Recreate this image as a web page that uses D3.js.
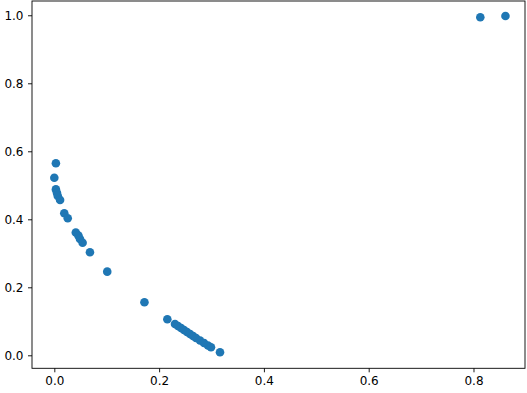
<!DOCTYPE html>
<html>
<head>
<meta charset="utf-8">
<script src="https://cdn.jsdelivr.net/npm/d3@7"></script>
<style>
  html, body { margin: 0; padding: 0; background: #fff; }
  svg text { font-family: "DejaVu Sans", sans-serif; }
</style>
</head>
<body>
<svg id="chart" width="527" height="393"></svg>
<script>
// scatter values
const xs = [0.003, 0.000, 0.003, 0.005, 0.0065, 0.011, 0.019, 0.0256, 0.041, 0.046, 0.049, 0.054, 0.068, 0.101,
  0.172, 0.2157, 0.2303, 0.236, 0.2418, 0.2475, 0.2532, 0.259, 0.2647, 0.2704, 0.2781, 0.2857, 0.2933, 0.299, 0.3162,
  0.813, 0.861]
const ys = [0.565, 0.522, 0.488, 0.478, 0.469, 0.457, 0.418, 0.403, 0.361, 0.352, 0.342, 0.331, 0.303, 0.246,
  0.156, 0.106, 0.092, 0.0862, 0.0803, 0.0744, 0.0685, 0.0626, 0.0568, 0.0509, 0.0435, 0.0362, 0.0288, 0.0235, 0.0088,
  0.994, 0.998]
const xTicks = [0.0, 0.2, 0.4, 0.6, 0.8]
const yTicks = [0.0, 0.2, 0.4, 0.6, 0.8, 1.0]

const data = xs.map((x, i) => ({ x, y: ys[i] }))
const m = { left: 32, right: 525, top: 1, bottom: 368.3 }
const svg = d3.select('#chart')

const x = d3.scaleLinear().domain([-0.0426, 0.8983]).range([m.left, m.right])
const y = d3.scaleLinear().domain([-0.0382, 1.042]).range([m.bottom, m.top])

svg.append('g').selectAll('circle').data(data).enter().append('circle')
  .attr('cx', d => x(d.x)).attr('cy', d => y(d.y)).attr('r', 4.3)
  .attr('fill', '#1f77b4')

// frame
svg.append('rect').attr('x', m.left).attr('y', m.top)
  .attr('width', m.right - m.left).attr('height', m.bottom - m.top)
  .attr('fill', 'none').attr('stroke', '#000').attr('stroke-width', 0.9)

const fmt = d3.format('.1f')
const xa = svg.append('g').attr('transform', `translate(0,${m.bottom})`)
  .call(d3.axisBottom(x).tickValues(xTicks).tickFormat(fmt).tickSize(4).tickPadding(4.5))
const ya = svg.append('g').attr('transform', `translate(${m.left},0)`)
  .call(d3.axisLeft(y).tickValues(yTicks).tickFormat(fmt).tickSize(4).tickPadding(4.5))
;[xa, ya].forEach(a => {
  a.select('.domain').remove()
  a.selectAll('line').attr('stroke', '#000').attr('stroke-width', 0.9)
  a.selectAll('text').attr('fill', '#000').style('font-size', '12px').style('font-family', '"DejaVu Sans", sans-serif')
})
</script>
</body>
</html>
